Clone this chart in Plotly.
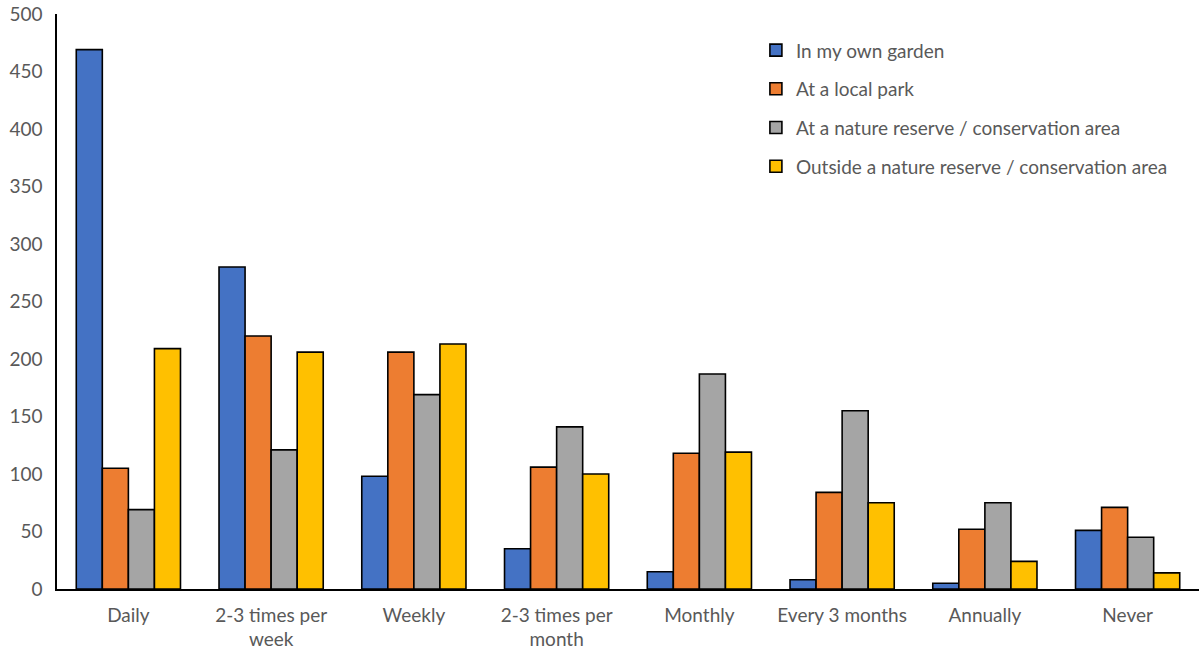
import plotly.graph_objects as go

categories = ["Daily", "2-3 times per<br>week", "Weekly", "2-3 times per<br>month",
              "Monthly", "Every 3 months", "Annually", "Never"]
series_names = ["In my own garden", "At a local park",
                "At a nature reserve / conservation area",
                "Outside a nature reserve / conservation area"]
garden = [469, 280, 98, 35, 15, 8, 5, 51]
local_park = [105, 220, 206, 106, 118, 84, 52, 71]
nature_reserve = [69, 121, 169, 141, 187, 155, 75, 45]
outside_reserve = [209, 206, 213, 100, 119, 75, 24, 14]
y_ticks = [0, 50, 100, 150, 200, 250, 300, 350, 400, 450, 500]

colors = ["#4472C4", "#ED7D31", "#A5A5A5", "#FFC000"]
values = [garden, local_park, nature_reserve, outside_reserve]

fig = go.Figure()
for i, (name, vals) in enumerate(zip(series_names, values)):
    fig.add_trace(go.Bar(
        x=categories, y=vals, name=name, legendgroup=f"g{i}",
        marker=dict(color=colors[i], line=dict(color="black", width=1.6)),
    ))

font_family = "Lato, 'Open Sans', sans-serif"
fig.update_layout(
    width=1200, height=649,
    margin=dict(l=57, r=1, t=14, b=60),
    paper_bgcolor="white", plot_bgcolor="white",
    barmode="group", bargap=0.27, bargroupgap=0,
    font=dict(family=font_family, size=19, color="#595959"),
    legend=dict(x=0.612, y=0.97, xanchor="left", yanchor="top",
                font=dict(size=19, color="#595959"),
                tracegroupgap=11, bgcolor="rgba(0,0,0,0)"),
    showlegend=True,
)
fig.update_xaxes(showline=True, linecolor="black", linewidth=1.5, showgrid=False,
                 ticks="", automargin=False, ticklabelstandoff=8,
                 tickfont=dict(size=19, color="#595959"))
fig.update_yaxes(range=[0, 500], tickvals=y_ticks, showline=True, linecolor="black",
                 linewidth=1.5, showgrid=False, zeroline=False, ticks="",
                 automargin=False, ticklabelstandoff=9, ticklabeloverflow="allow",
                 tickfont=dict(size=19, color="#595959"))

fig.write_html("out.html", config={"displayModeBar": False},
               post_script="document.body.style.margin='0';")
